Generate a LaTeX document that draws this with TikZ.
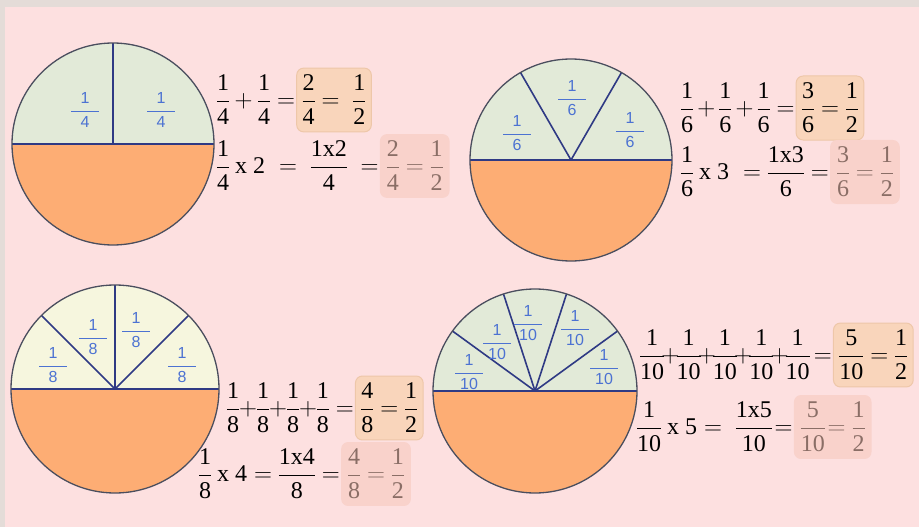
\documentclass[tikz,border=0pt]{standalone}
\usepackage{fontspec}
\setmainfont{Liberation Serif}
\newfontfamily\labelfont{Liberation Sans}
\usetikzlibrary{positioning}

\definecolor{bgpink}{HTML}{FDE0E0}
\definecolor{bgedge}{HTML}{E4DCD8}
\definecolor{topgreen}{HTML}{E2EAD8}
\definecolor{topcream}{HTML}{F6F6DE}
\definecolor{halforange}{HTML}{FDAD74}
\definecolor{rimgray}{HTML}{4A4E5E}
\definecolor{slicenavy}{HTML}{2F3A84}
\definecolor{labelblue}{HTML}{4C72D2}
\definecolor{sumfill}{HTML}{F9D5BB}
\definecolor{sumedge}{HTML}{EEC7A9}
\definecolor{prodfill}{HTML}{F9D2CB}
\definecolor{prodtext}{HTML}{8A6E66}

\setlength{\nulldelimiterspace}{0pt}
% fraction of two text items, a tight plus, and the small label in a slice
\newcommand{\fr}[2]{{\mbox{#1}\over\mbox{#2}}}
\newcommand{\tp}[1]{\mkern#1mu{+}\mkern#1mu}
\newcommand{\pf}[1]{$\displaystyle{\hbox to 1.7em{\hfil 1\hfil}\over\hbox{#1}}$}

\begin{document}
\begin{tikzpicture}[
        x=1pt, y=-1pt,
        rim/.style = {draw=rimgray, line width=1.3pt},
        slice/.style = {draw=slicenavy, line width=1.6pt},
        part label/.style = {
            text=labelblue,
            inner sep=0pt,
            font=\labelfont\fontsize{16}{18}\selectfont},
        eq/.style = {
            anchor=west,
            inner sep=0pt,
            font=\fontsize{24}{28}\selectfont},
        sum box/.style = {
            fill=sumfill,
            draw=sumedge,
            line width=1pt,
            rounded corners=7pt,
            inner xsep=6pt,
            inner ysep=7pt,
            font=\fontsize{24}{28}\selectfont},
        prod box/.style = {
            fill=prodfill,
            text=prodtext,
            rounded corners=7pt,
            inner xsep=7pt,
            inner ysep=7pt,
            font=\fontsize{24}{28}\selectfont}
    ]
    \useasboundingbox (0,0) rectangle (919,527);
    \fill[bgedge] (0,0) rectangle (919,527);
    \fill[bgpink] (5,7) rectangle (919,527);

    % quarters
    \coordinate (o1) at (113,144);
    \fill[topgreen] (o1) ++(180:101) arc (180:360:101) -- cycle;
    \fill[halforange] (o1) ++(0:101) arc (0:180:101) -- cycle;
    \draw[slice] (o1) -- ++(-90:101);
    \draw[slice] (o1) ++(180:101) -- ++(202,0);
    \draw[rim] (o1) circle[radius=101];
    \node[part label] (q1) at (85,110) {\pf{4}};
    \node[part label] (q2) at (161,110) {\pf{4}};

    \node[eq] (e1a) at (217,100) {$\displaystyle\fr14+\fr14=$};
    \node[sum box, right=1pt of e1a] (e1b) {$\displaystyle\fr24=\;\fr12$};
    \node[eq] (e1c) at (217,166) {$\displaystyle\fr14\mbox{ x 2}\;=\;\fr{1x2}{4}\;=$};
    \node[prod box, right=1pt of e1c] (e1d) {$\displaystyle\fr24=\fr12$};

    % sixths
    \coordinate (o2) at (571,160);
    \fill[topgreen] (o2) ++(180:101) arc (180:360:101) -- cycle;
    \fill[halforange] (o2) ++(0:101) arc (0:180:101) -- cycle;
    \foreach \a in {-60,-120}
        \draw[slice] (o2) -- ++(\a:101);
    \draw[slice] (o2) ++(180:101) -- ++(202,0);
    \draw[rim] (o2) circle[radius=101];
    \node[part label] (s1) at (517,133) {\pf{6}};
    \node[part label] (s2) at (572,98) {\pf{6}};
    \node[part label] (s3) at (630,130) {\pf{6}};

    \node[eq] (e2a) at (681,108) {$\displaystyle\fr16\tp{3}\fr16\tp{3}\fr16=$};
    \node[sum box, right=1pt of e2a] (e2b) {$\displaystyle\fr36=\fr12$};
    \node[eq] (e2c) at (681,172) {$\displaystyle\fr16\mbox{ x 3}\;=\fr{1x3}{6}=$};
    \node[prod box, right=1pt of e2c] (e2d) {$\displaystyle\fr36=\fr12$};

    % eighths
    \coordinate (o3) at (115,389);
    \fill[topcream] (o3) ++(180:104) arc (180:360:104) -- cycle;
    \fill[halforange] (o3) ++(0:104) arc (0:180:104) -- cycle;
    \foreach \a in {-45,-90,-135}
        \draw[slice] (o3) -- ++(\a:104);
    \draw[slice] (o3) ++(180:104) -- ++(208,0);
    \draw[rim] (o3) circle[radius=104];
    \node[part label] (g1) at (53,365) {\pf{8}};
    \node[part label] (g2) at (93,337) {\pf{8}};
    \node[part label] (g3) at (136,330) {\pf{8}};
    \node[part label] (g4) at (182,365) {\pf{8}};

    \node[eq] (e3a) at (227,408) {$\displaystyle\fr18{+}\fr18{+}\fr18{+}\fr18=$};
    \node[sum box, right=1pt of e3a] (e3b) {$\displaystyle\fr48=\fr12$};
    \node[eq] (e3c) at (199,474) {$\displaystyle\fr18\mbox{ x 4}=\fr{1x4}{8}=$};
    \node[prod box, right=1pt of e3c] (e3d) {$\displaystyle\fr48=\fr12$};

    % tenths
    \coordinate (o4) at (535,391);
    \fill[topgreen] (o4) ++(180:102) arc (180:360:102) -- cycle;
    \fill[halforange] (o4) ++(0:102) arc (0:180:102) -- cycle;
    \foreach \a in {-36,-72,-108,-144}
        \draw[slice] (o4) -- ++(\a:102);
    \draw[slice] (o4) ++(180:102) -- ++(204,0);
    \draw[rim] (o4) circle[radius=102];
    \node[part label] (t1) at (469,372) {\pf{10}};
    \node[part label] (t2) at (497,342) {\pf{10}};
    \node[part label] (t3) at (528,323) {\pf{10}};
    \node[part label] (t4) at (575,328) {\pf{10}};
    \node[part label] (t5) at (604,367) {\pf{10}};

    \node[eq] (e4a) at (640,355) {$\displaystyle\fr1{10}\tp{-2}\fr1{10}\tp{-2}\fr1{10}\tp{-2}\fr1{10}\tp{-2}\fr1{10}\mkern-2mu=$};
    \node[sum box, right=1pt of e4a] (e4b) {$\displaystyle\fr5{10}=\fr12$};
    \node[eq] (e4c) at (637,427) {$\displaystyle\fr1{10}\mbox{ x 5}=\;\fr{1x5}{10}\mkern-3mu=$};
    \node[prod box, right=1pt of e4c] (e4d) {$\displaystyle\fr5{10}\mkern-3mu=\fr12$};
\end{tikzpicture}
\end{document}
